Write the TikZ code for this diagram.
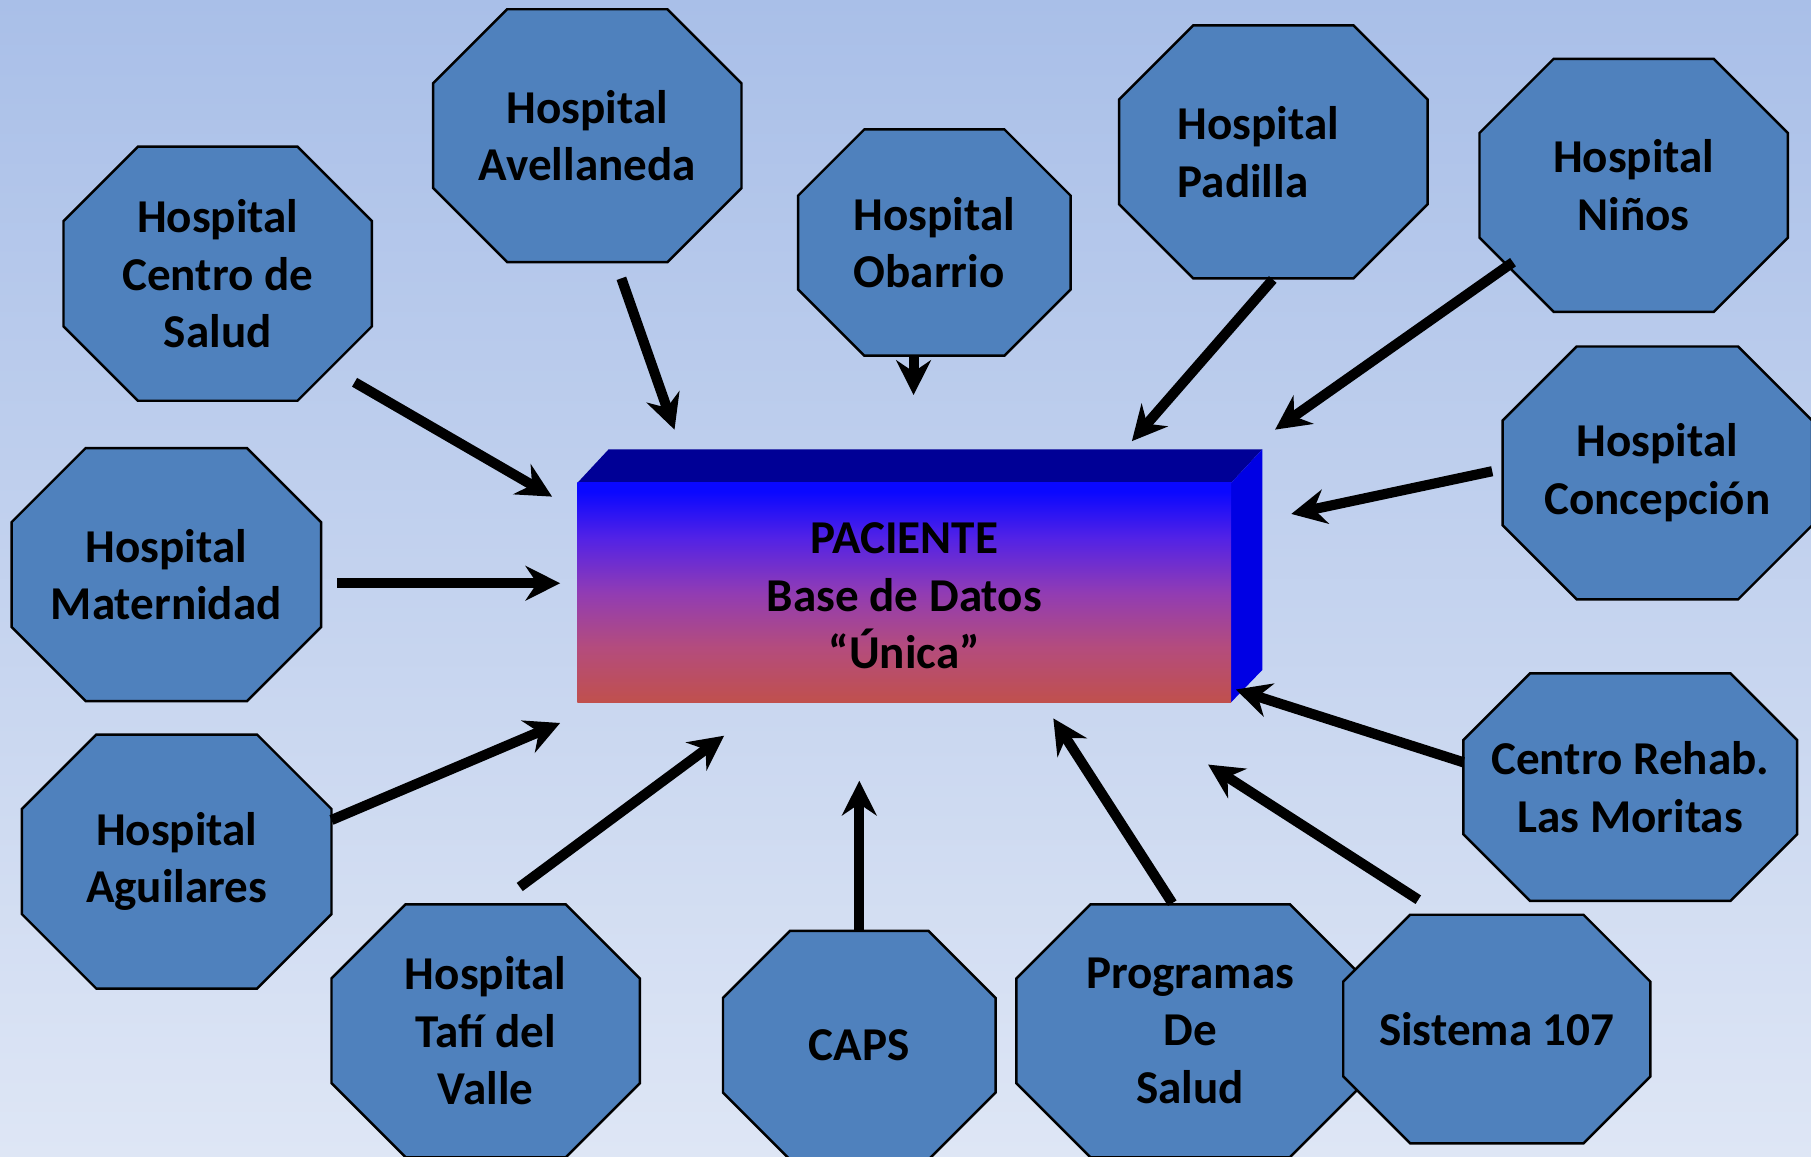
\documentclass[tikz,border=0pt]{standalone}
\usepackage{fontspec}
\setmainfont{Carlito}
\usetikzlibrary{arrows.meta}
\definecolor{bgtop}{RGB}{169,191,232}
\definecolor{bgbot}{RGB}{222,230,245}
\definecolor{octfill}{RGB}{79,129,189}
\definecolor{boxtop}{RGB}{10,8,255}
\definecolor{boxq1}{RGB}{82,34,230}
\definecolor{boxmid}{RGB}{145,60,180}
\definecolor{boxq3}{RGB}{180,76,125}
\definecolor{boxbot}{RGB}{192,80,77}
\definecolor{boxlid}{RGB}{0,0,150}
\definecolor{boxside}{RGB}{0,0,228}
\pgfdeclareverticalshading{boxgrad}{100bp}{color(0bp)=(boxbot); color(25bp)=(boxbot); color(37.5bp)=(boxq3); color(50bp)=(boxmid); color(62.5bp)=(boxq1); color(73bp)=(boxtop); color(100bp)=(boxtop)}
\newcommand\myocta[7][]{%
  \pgfmathsetmacro\octc{0.2929*min(#5-#3,#6-#4)}%
  \draw[octstyle] ({#3+\octc},#4) -- ({#5-\octc},#4) -- (#5,{#4+\octc}) -- (#5,{#6-\octc})
    -- ({#5-\octc},#6) -- ({#3+\octc},#6) -- (#3,{#6-\octc}) -- (#3,{#4+\octc}) -- cycle;
  \node[lbl,#1] (#2) at ({(#3+#5)/2},{(#4+#6)/2}) {#7};
}
\begin{document}
\begin{tikzpicture}[x=0.01cm,y=-0.01cm,
  octstyle/.style={fill=octfill,draw=black,line width=0.6pt,line join=miter},
  lbl/.style={font=\fontsize{11.6}{14.2}\selectfont\bfseries,align=center,inner sep=0pt,text=black},
  arr/.style={line width=2.5pt,-{Stealth[length=0.3cm,width=0.3cm,inset=0.1cm]}}]
\useasboundingbox (0,0) rectangle (1568,1001);
\clip (0,0) rectangle (1568,1001);
\shade[top color=bgtop,bottom color=bgbot] (0,0) rectangle (1568,1001);

% octagons
\myocta{csalud}{55}{127}{322}{347}{Hospital\\Centro de\\Salud}
\myocta{avell}{375}{8}{642}{227}{Hospital\\Avellaneda}
\myocta[align=left]{obarrio}{691}{112}{927}{308}{Hospital\\Obarrio}
\myocta[align=left,xshift=-0.13cm]{padilla}{969}{22}{1236}{241}{Hospital\\Padilla}
\myocta{ninos}{1281}{51}{1548}{270}{Hospital\\Niños}
\myocta{concep}{1301}{300}{1569}{519}{Hospital\\Concepción}
\myocta{matern}{10}{388}{278}{607}{Hospital\\Maternidad}
\myocta{aguil}{19}{636}{287}{856}{Hospital\\Aguilares}
\myocta{tafi}{287}{783}{554}{1002}{Hospital\\Tafí del\\Valle}
\myocta{caps}{626}{806}{862}{1004}{CAPS}
\myocta{progr}{880}{783}{1181}{1002}{Programas\\De\\Salud}
\myocta{sist}{1163}{792}{1429}{990}{Sistema 107}
\myocta{rehab}{1267}{583}{1556}{780}{Centro Rehab.\\Las Moritas}

% central box
\fill[boxlid] (500,418) -- (527,389) -- (1093,389) -- (1066,418) -- cycle;
\fill[boxside] (1066,418) -- (1093,389) -- (1093,580) -- (1066,608) -- cycle;
\shade[shading=boxgrad] (500,418) rectangle (1066,608);
\node[lbl] (pac) at (783,516) {PACIENTE\\Base de Datos\\“Única”};

% arrow end points
\coordinate (a1) at (307,331);  \coordinate (b1) at (478,430);
\coordinate (a2) at (538,241);  \coordinate (b2) at (584,372);
\coordinate (a3) at (791,308);  \coordinate (b3) at (791,342);
\coordinate (a4) at (1102,242); \coordinate (b4) at (980,382);
\coordinate (a5) at (1310,227); \coordinate (b5) at (1104,372);
\coordinate (a6) at (1292,408); \coordinate (b6) at (1118,445);
\coordinate (a7) at (292,505);  \coordinate (b7) at (485,505);
\coordinate (a8) at (287,710);  \coordinate (b8) at (485,626);
\coordinate (a9) at (450,768);  \coordinate (b9) at (627,637);
\coordinate (a10) at (744,805); \coordinate (b10) at (744,676);
\coordinate (a11) at (1015,782); \coordinate (b11) at (912,622);
\coordinate (a12) at (1228,779); \coordinate (b12) at (1046,662);
\coordinate (a13) at (1267,660); \coordinate (b13) at (1070,597);

\foreach \i in {1,...,13} {\draw[arr] (a\i) -- (b\i);}
\end{tikzpicture}
\end{document}
